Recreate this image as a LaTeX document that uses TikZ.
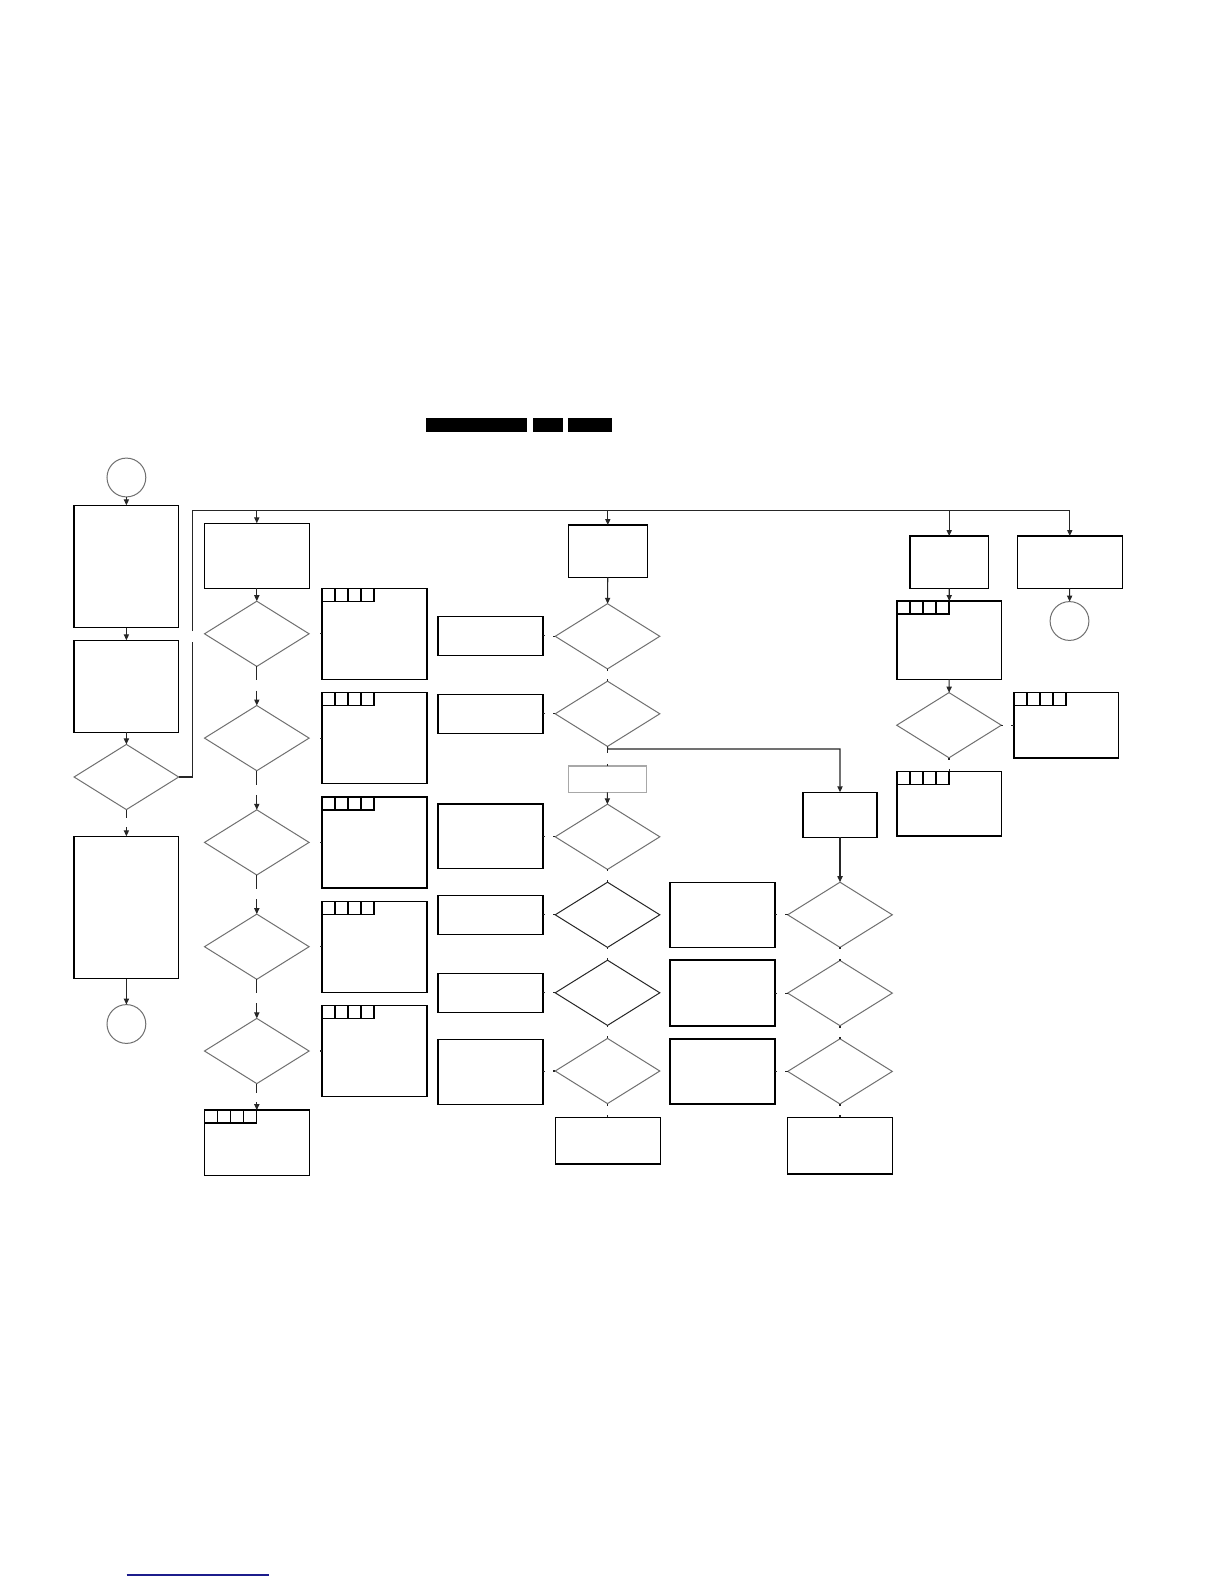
\documentclass[tikz,border=0pt]{standalone}
\usepackage{xcolor}
\usetikzlibrary{arrows.meta,positioning,shapes.geometric,calc}
\definecolor{bk90}{HTML}{262626}
\definecolor{bk60}{HTML}{707070}
\definecolor{bk40}{HTML}{A8A8A8}
\definecolor{linkblue}{HTML}{1C1C8C}
\tikzset{
  flowbox/.style={
    rectangle, draw=black, line width=0.65pt,
    minimum width=52.4pt, minimum height=#1,
    inner sep=0pt, outer sep=0pt
  },
  flowbox/.default=32.5pt,
  tabbox/.style={
    flowbox=#1,
    path picture={
      \foreach \c in {0,...,3}
        \draw[line width=0.65pt] ([xshift=\c*6.5pt]path picture bounding box.north west)
          rectangle ++(6.5pt,-6.5pt);
    }
  },
  tabbox/.default=45.5pt,
  decision/.style={
    diamond, draw=#1, line width=0.5pt,
    minimum width=52.3pt, minimum height=32.6pt,
    inner sep=0pt, outer sep=0pt
  },
  decision/.default=bk60,
  termcircle/.style={
    circle, draw=bk60, line width=0.5pt,
    minimum size=19.4pt, inner sep=0pt, outer sep=0pt
  },
  dataarrow/.style={
    -{Triangle[length=3pt,width=2.6pt]}, line width=0.55pt, color=#1
  },
  dataarrow/.default=bk90,
  flowline/.style={line width=0.55pt, color=bk90},
  stubline/.style={line width=0.55pt, color=bk90},
}

\begin{document}
\begin{tikzpicture}[x=0.5pt,y=-0.5pt]
  \path[fill=white] (0,0) rectangle (1224,1584);

  % header bars
  \fill[black] (426,418) rectangle (527,432);
  \fill[black] (533,418) rectangle (563,432);
  \fill[black] (568,418) rectangle (612,432);

  % Left column
  \node[termcircle] (start) at (126.4,477.5) {};
  \node[flowbox=61.2pt] (a1) at (126.4,566.5) {};
  \node[flowbox=46pt] (a2) at (126.4,686.3) {};
  \node[decision] (a3) at (126.4,777) {};
  \node[flowbox=71.2pt] (a4) at (126.4,907.5) {};
  \node[termcircle] (stop1) at (126.4,1024) {};

  \draw[dataarrow] (start) -- (a1);
  \draw[dataarrow] (a1) -- (a2);
  \draw[dataarrow] (a2) -- (a3);
  \draw[flowline] (a3.south) -- ++(0,8);
  \draw[dataarrow] ($(a4.north)+(0,-9)$) -- (a4.north);
  \draw[dataarrow] (a4) -- (stop1);

  % return bus to the top
  \coordinate (busturn) at (192.7,777);
  \coordinate (gapb) at (192.7,642);
  \coordinate (gapt) at (192.7,631);
  \coordinate (busL) at (192.7,510.3);
  \coordinate (busR) at (1069.5,510.3);
  \draw[flowline] (a3.east) -- (busturn) -- (gapb);
  \draw[flowline] (gapt) -- (busL) -- (busR);

  % Column 2 and 3
  \node[flowbox=32.5pt] (e0) at (256.8,555.8) {};
  \foreach \i/\y in {1/633.8,2/738.1,3/842.4,4/946.7,5/1051.0} {
    \node[decision] (d\i) at (256.8,\y) {};
    \node[tabbox=45.5pt] (t\i) at (374.5,\y) {};
    \draw[stubline] (t\i.west) -- ++(-2.5,0);
  }
  \node[tabbox=32.6pt] (b0) at (256.8,1142.7) {};

  \draw[dataarrow] (e0) -- (d1);
  \foreach \i/\j in {1/2,2/3,3/4,4/5} {
    \draw[flowline] (d\i.south) -- ++(0,14);
    \draw[dataarrow] ($(d\j.north)+(0,-15)$) -- (d\j.north);
  }
  \draw[flowline] (d5.south) -- ++(0,9);
  \draw[dataarrow] ($(b0.north)+(0,-8)$) -- (b0.north);

  % Column 4
  \foreach \n/\y/\h in {r1/635.8/19.5pt,r2/713.8/19.5pt,r3/836.4/32.3pt,
                         r4/914.8/19.5pt,r5/992.8/19.5pt,r6/1071.8/32.5pt} {
    \node[flowbox=\h] (\n) at (490.5,\y) {};
    \draw[stubline] (\n.east) -- ++(2.5,0);
  }

  % Column 5
  \node[flowbox=26.2pt, minimum width=39.5pt] (f0) at (607.8,551.2) {};
  \foreach \i/\y/\c in {1/636.3/bk60,2/713.8/bk60,3/836.8/bk60,
                        4/914.8/bk90,5/992.8/bk90,6/1071/bk60} {
    \node[decision=\c] (m\i) at (607.5,\y) {};
    \draw[stubline] (m\i.west) -- ++(-2.5,0);
  }
  \node[flowbox=13.2pt, minimum width=39pt, draw=bk40] (g0) at (607.3,779.2) {};
  \node[flowbox=23.3pt] (h0) at (607.8,1140.7) {};

  \draw[dataarrow] (f0) -- (m1);
  \draw[dataarrow] (g0) -- (m3);
  \foreach \i/\j in {1/2,3/4,4/5,5/6} {
    \draw[stubline] (m\i.south) -- ++(0,2);
    \draw[stubline] (m\j.north) -- ++(0,-2);
  }
  \draw[stubline] (m6.south) -- ++(0,2);
  \draw[stubline] (h0.north) -- ++(0,-2);

  % Column 6 and 7
  \node[flowbox=22.5pt, minimum width=37pt] (i0) at (840,814.8) {};
  \foreach \i/\y/\h in {1/914.8/32.5pt,2/993.1/33pt,3/1071.4/32.5pt} {
    \node[flowbox=\h] (s\i) at (722.5,\y) {};
    \node[decision] (n\i) at (840,\y) {};
    \draw[stubline] (s\i.east) -- ++(2.5,0);
    \draw[stubline] (n\i.west) -- ++(-2.5,0);
  }
  \node[flowbox=28.4pt] (j0) at (840,1145.7) {};

  \coordinate (splitm) at (607.7,749);
  \draw[dataarrow] (m2.south) -- (splitm) -| (i0.north);
  \draw[flowline] (splitm) -- ++(0,4.3);
  \draw[stubline] (g0.north) -- ++(0,-2);
  \draw[dataarrow] (i0) -- (n1);
  \foreach \i/\j in {1/2,2/3} {
    \draw[stubline] (n\i.south) -- ++(0,2);
    \draw[stubline] (n\j.north) -- ++(0,-2);
  }
  \draw[stubline] (n3.south) -- ++(0,2);
  \draw[stubline] (j0.north) -- ++(0,-2);

  % Column 8 and 9
  \node[flowbox=26.2pt, minimum width=39.2pt] (k0) at (949.2,562.2) {};
  \node[tabbox=39.2pt] (l0) at (949.3,640.2) {};
  \node[decision] (p0) at (949,725.2) {};
  \node[tabbox=32.4pt] (q0) at (949.3,803.7) {};
  \node[tabbox=32.8pt] (v0) at (1066.3,725.2) {};
  \node[flowbox=26.2pt] (u0) at (1069.8,562.2) {};
  \node[termcircle] (stop2) at (1069.5,621) {};

  \draw[dataarrow] (k0) -- (l0);
  \draw[dataarrow] (l0) -- (p0);
  \draw[stubline] (p0.south) -- ++(0,2);
  \draw[stubline] (q0.north) -- ++(0,-2);
  \draw[stubline] (p0.east) -- ++(2,0);
  \draw[stubline] (v0.west) -- ++(-2.5,0);
  \draw[dataarrow] (u0) -- (stop2);

  % drops from the top bus
  \foreach \n in {e0,f0,k0,u0}
    \draw[dataarrow] (\n |- busL) -- (\n);

  % footer link
  \draw[linkblue, line width=0.6pt] (126.7,1575) -- (269,1575);
\end{tikzpicture}
\end{document}
